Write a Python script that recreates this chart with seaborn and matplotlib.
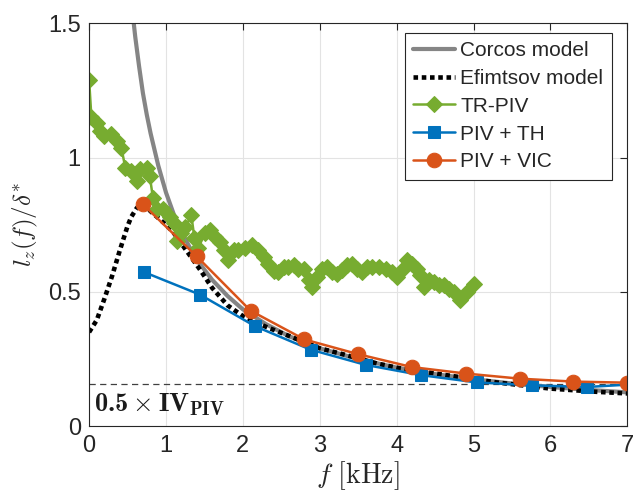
import matplotlib
matplotlib.use("Agg")
import matplotlib.pyplot as plt
import seaborn as sns

# Corcos model
corcos_f = [0.50, 0.55, 0.60, 0.65, 0.70, 0.75, 0.80, 0.90, 1.00, 1.10, 1.20, 1.30, 1.40,
            1.60, 1.80, 2.00, 2.30, 2.60, 3.00, 3.50, 4.00, 4.50, 5.00, 5.50, 6.00, 6.50, 7.00]
corcos_lz = [1.74, 1.58, 1.45, 1.34, 1.24, 1.16, 1.09, 0.97, 0.87, 0.79, 0.725, 0.67, 0.62,
             0.545, 0.485, 0.435, 0.38, 0.335, 0.29, 0.25, 0.218, 0.194, 0.175, 0.159, 0.146, 0.135, 0.126]

# Efimtsov model
efim_f = [0.00, 0.10, 0.20, 0.30, 0.40, 0.50, 0.55, 0.62, 0.66, 0.70, 0.75, 0.80, 0.90,
          1.00, 1.10, 1.25, 1.45, 1.60, 1.80, 2.00, 2.30, 2.60, 3.00, 3.30, 3.75, 4.00,
          4.60, 5.30, 6.00, 6.60, 7.00]
efim_lz = [0.35, 0.395, 0.475, 0.56, 0.655, 0.745, 0.78, 0.812, 0.822, 0.822, 0.815, 0.80, 0.775,
           0.75, 0.72, 0.66, 0.58, 0.515, 0.45, 0.41, 0.37, 0.336, 0.29, 0.268, 0.233, 0.218,
           0.192, 0.163, 0.14, 0.128, 0.122]

# TR-PIV
trpiv_f = [0.00, 0.03, 0.10, 0.14, 0.20, 0.29, 0.36, 0.42, 0.47, 0.55, 0.62, 0.66, 0.75, 0.79,
           0.83, 0.88, 0.96, 1.05, 1.10, 1.14, 1.20, 1.25, 1.33, 1.37, 1.42, 1.51, 1.57, 1.64,
           1.70, 1.75, 1.81, 1.88, 1.94, 2.03, 2.12, 2.20, 2.27, 2.33, 2.40, 2.46, 2.53, 2.59,
           2.66, 2.72, 2.79, 2.86, 2.90, 2.96, 3.03, 3.10, 3.16, 3.23, 3.29, 3.36, 3.42, 3.49,
           3.55, 3.62, 3.68, 3.77, 3.86, 3.94, 4.01, 4.07, 4.14, 4.20, 4.27, 4.31, 4.35, 4.42,
           4.49, 4.55, 4.62, 4.68, 4.75, 4.83, 4.92, 5.01]
trpiv_lz = [1.29, 1.15, 1.13, 1.10, 1.08, 1.088, 1.063, 1.037, 0.963, 0.95, 0.913, 0.957, 0.963, 0.93,
            0.85, 0.81, 0.81, 0.78, 0.755, 0.69, 0.72, 0.74, 0.785, 0.70, 0.665, 0.718, 0.73, 0.705,
            0.685, 0.655, 0.618, 0.655, 0.655, 0.662, 0.675, 0.655, 0.63, 0.605, 0.578, 0.574, 0.593, 0.593,
            0.599, 0.585, 0.585, 0.543, 0.518, 0.555, 0.585, 0.593, 0.574, 0.568, 0.58, 0.599, 0.605, 0.585,
            0.574, 0.593, 0.593, 0.593, 0.585, 0.574, 0.555, 0.58, 0.618, 0.605, 0.585, 0.561, 0.518, 0.543,
            0.536, 0.524, 0.524, 0.511, 0.499, 0.468, 0.499, 0.53]

# PIV + TH
th_f = [0.72, 1.44, 2.16, 2.88, 3.60, 4.32, 5.04, 5.76, 6.48, 7.20]
th_lz = [0.573, 0.49, 0.372, 0.285, 0.228, 0.19, 0.163, 0.152, 0.146, 0.158]

# PIV + VIC
vic_f = [0.70, 1.40, 2.10, 2.80, 3.50, 4.20, 4.90, 5.60, 6.30, 7.00]
vic_lz = [0.826, 0.632, 0.43, 0.323, 0.268, 0.22, 0.196, 0.177, 0.166, 0.162]

iv_level = 0.157

sns.set_theme(style="white")
plt.rcParams['font.family'] = ['Liberation Sans', 'DejaVu Sans']
plt.rcParams['mathtext.fontset'] = 'cm'
plt.rcParams['mathtext.bf'] = 'cmb10'
plt.rcParams['mathtext.rm'] = 'cmr10'

fig = plt.figure(figsize=(6.41, 4.95), dpi=100)
ax = fig.add_axes([0.139, 0.139, 0.8396, 0.814])

sns.lineplot(x=corcos_f, y=corcos_lz, ax=ax, color="#858585", linewidth=3.0,
             label="Corcos model", sort=False, estimator=None)
sns.lineplot(x=efim_f, y=efim_lz, ax=ax, color="black", linewidth=3.3,
             label="Efimtsov model", sort=False, estimator=None)
ax.lines[-1].set_linestyle((0, (1, 0.8)))
sns.lineplot(x=trpiv_f, y=trpiv_lz, ax=ax, color="#77AC30", linewidth=1.8, marker="D",
             markersize=8.5, markeredgecolor="#77AC30", label="TR-PIV", sort=False, estimator=None)
sns.lineplot(x=th_f, y=th_lz, ax=ax, color="#0072BD", linewidth=1.8, marker="s",
             markersize=8.5, markeredgecolor="#0072BD", label="PIV + TH", sort=False, estimator=None)
sns.lineplot(x=vic_f, y=vic_lz, ax=ax, color="#D95319", linewidth=1.8, marker="o",
             markersize=10.5, markeredgecolor="#D95319", label="PIV + VIC", sort=False, estimator=None)

ax.axhline(iv_level, color="#404040", linestyle=(0, (5, 3.5)), linewidth=0.9, zorder=1)
ax.text(0.07, 0.055, r"$\mathbf{0.5} \times \mathbf{IV}_{\mathbf{PIV}}$", fontsize=19,
        color="#1a1a1a", ha="left", va="baseline", math_fontfamily="custom")

ax.set_xlim(0, 7)
ax.set_ylim(0, 1.5)
ax.set_xticks(range(8))
ax.set_yticks([0, 0.5, 1, 1.5])
ax.set_yticklabels(["0", "0.5", "1", "1.5"])
ax.grid(True, color="#e3e3e3", linewidth=0.8)
ax.set_axisbelow(True)
for s in ax.spines.values():
    s.set_color("#262626")
    s.set_linewidth(0.8)
ax.tick_params(direction="in", length=5, width=0.8, top=True, right=True,
               labelsize=17, colors="#262626", pad=6)

ax.set_xlabel(r"$f\ \mathrm{[kHz]}$", fontsize=20, color="#262626", labelpad=2)
ax.set_ylabel(r"$l_z(f)/\delta^{*}$", fontsize=18, color="#262626", labelpad=6)

leg = ax.legend(loc="upper right", bbox_to_anchor=(0.971, 0.976), fontsize=15, frameon=True,
                fancybox=False, edgecolor="#262626", framealpha=1, handlelength=2.0,
                handletextpad=0.25, labelspacing=0.42, borderpad=0.4, borderaxespad=0)
leg.get_frame().set_linewidth(0.8)

fig.savefig("out.png", dpi=100)
plt.close(fig)
